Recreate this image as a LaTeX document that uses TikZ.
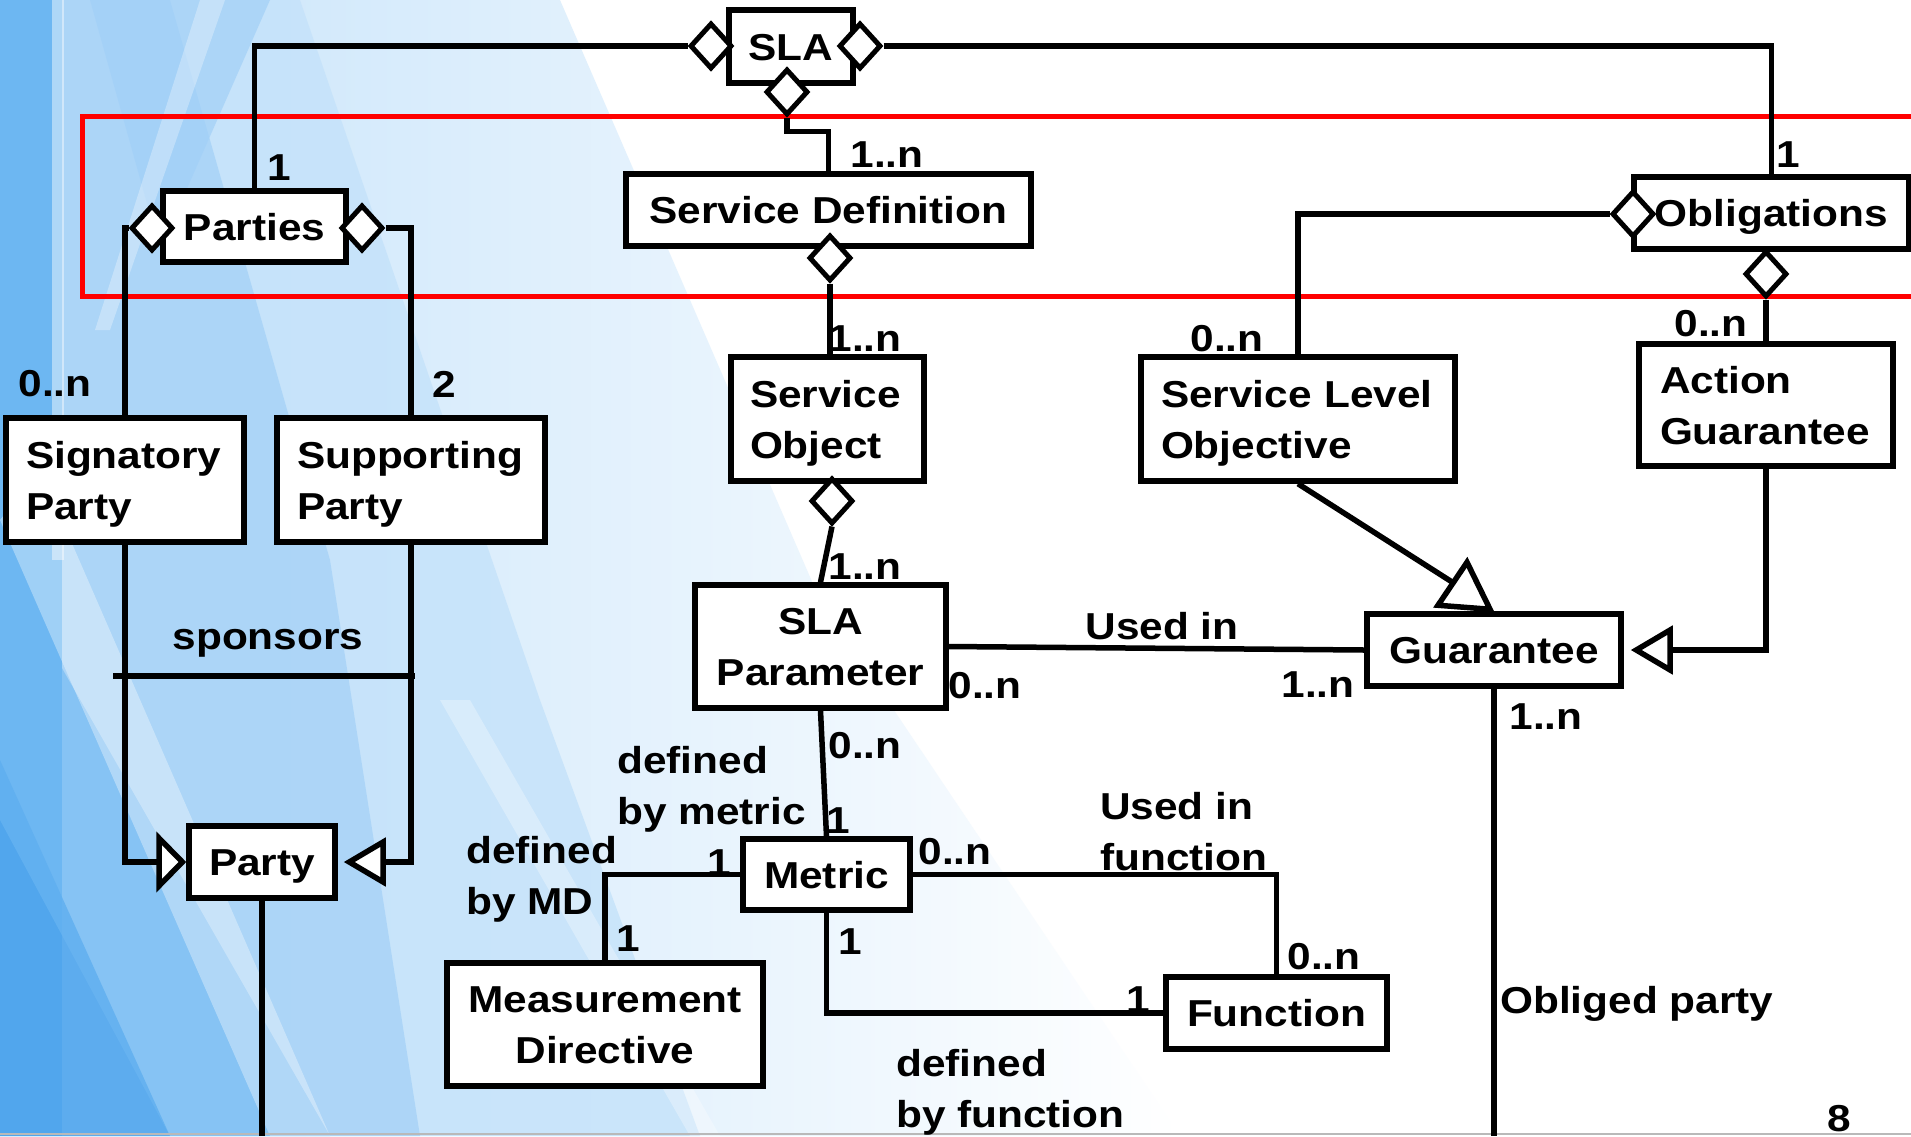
\documentclass[tikz,border=0pt]{standalone}
\usepackage{fontspec}
\setmainfont{Liberation Sans}[FakeStretch=1.13]
\usetikzlibrary{shapes.geometric,arrows.meta,calc}
\definecolor{bgL}{HTML}{E2F1FD}
\definecolor{bgM}{HTML}{C4E2FA}
\definecolor{bgS}{HTML}{A2D0F7}
\definecolor{bgD}{HTML}{6DB7F2}
\definecolor{bgX}{HTML}{4AA2EC}
\definecolor{redline}{HTML}{FF0000}
\newcommand{\dfont}{\fontsize{37.5pt}{51pt}\selectfont\bfseries}
\tikzset{
  cls/.style={draw, line width=5.5pt, fill=white, inner sep=0pt, font=\dfont,
              text height=27pt, text depth=0pt},
  two/.style={text depth=51pt},
  dia/.style={diamond, draw, line width=5pt, fill=white, inner sep=0pt,
              minimum width=42pt, minimum height=46pt},
  conn/.style={line width=5.5pt},
  lbl/.style={font=\dfont, inner sep=0pt, anchor=base},
  lblw/.style={font=\dfont, inner sep=0pt, anchor=base west, align=left}
}
\begin{document}
\begin{tikzpicture}[x=1pt, y=-1pt, line join=miter]
\useasboundingbox (0,0) rectangle (1911,1136);
\clip (0,0) rectangle (1911,1136);
% ---------- background ----------
\fill[white] (0,0) rectangle (1911,1136);
\shade[left color=bgM, right color=white] (0,0) -- (560,0) -- (820,600) -- (1180,1136) -- (0,1136) -- cycle;
\fill[bgM, opacity=0.8] (0,0) -- (300,0) -- (540,700) -- (700,1136) -- (0,1136) -- cycle;
\fill[bgS, opacity=0.7] (0,0) -- (170,0) -- (330,560) -- (420,1136) -- (0,1136) -- cycle;
\fill[bgS, opacity=0.7] (90,0) -- (270,0) -- (160,250) -- cycle;
\fill[bgD] (0,0) -- (62,0) -- (62,1136) -- (0,1136) -- cycle;
\fill[bgX, opacity=0.8] (0,760) -- (170,1136) -- (0,1136) -- cycle;
\fill[bgD, opacity=0.6] (0,560) -- (330,1136) -- (170,1136) -- (0,820) -- cycle;
\fill[white, opacity=0.45] (52,0) -- (64,0) -- (64,560) -- (52,560) -- cycle;
\fill[white, opacity=0.35] (0,520) -- (40,470) -- (330,1136) -- (270,1136) -- cycle;
\fill[white, opacity=0.3] (440,700) -- (470,700) -- (720,1136) -- (690,1136) -- cycle;
\fill[white, opacity=0.3] (200,0) -- (225,0) -- (110,330) -- (95,330) -- cycle;
\draw[gray!55, line width=2pt] (0,1134) -- (1911,1134);

% red frame
\draw[redline, line width=5pt] (82,116) rectangle (1940,296);

% ---------- classes ----------
\node[cls, minimum width=124pt, minimum height=73pt] (sla) at (791,46.5) {SLA};
\node[cls, minimum width=183pt, minimum height=71pt] (parties) at (254.5,226.5) {Parties};
\node[cls, minimum width=405pt, minimum height=72pt] (sd) at (828.5,210) {Service Definition};
\node[cls, minimum width=275pt, minimum height=72pt] (obl) at (1771.5,213) {Obligations};
\node[cls, two, minimum width=238pt, minimum height=124pt, text width=198pt, align=left] (sig) at (125,480) {Signatory\\Party};
\node[cls, two, minimum width=268pt, minimum height=124pt, text width=228pt, align=left] (sup) at (411,480) {Supporting\\Party};
\node[cls, two, minimum width=193pt, minimum height=124pt, text width=155pt, align=left] (so) at (827.5,419) {Service\\Object};
\node[cls, two, minimum width=314pt, minimum height=124pt, text width=274pt, align=left] (slo) at (1298,419) {Service Level\\Objective};
\node[cls, two, minimum width=254pt, minimum height=122pt, text width=212pt, align=left] (ag) at (1766,405) {Action\\Guarantee};
\node[cls, two, minimum width=251pt, minimum height=123pt, text width=230pt, align=center] (slap) at (820.5,646.5) {SLA\\Parameter};
\node[cls, minimum width=254pt, minimum height=72pt] (g) at (1494,650) {Guarantee};
\node[cls, minimum width=146pt, minimum height=72pt] (party) at (262,862) {Party};
\node[cls, minimum width=167pt, minimum height=71pt] (metric) at (826.5,874.5) {Metric};
\node[cls, two, minimum width=316pt, minimum height=123pt, text width=296pt, align=center] (md) at (605,1024.5) {Measurement\\Directive};
\node[cls, minimum width=221pt, minimum height=72pt] (fn) at (1276.5,1013) {Function};

% diamonds (aggregation ends)
\node[dia] (dSLAl) at (711,46) {};
\node[dia] (dSLAr) at (860,46) {};
\node[dia] (dSLAb) at (787,92) {};
\node[dia] (dParL) at (152,228) {};
\node[dia] (dParR) at (362,228) {};
\node[dia] (dSD) at (830,258) {};
\node[dia] (dObL) at (1633,214) {};
\node[dia] (dObB) at (1766,274) {};
\node[dia] (dSO) at (832,501) {};

\coordinate (bot) at (0,1136);
\coordinate (spL) at (113,676);
\coordinate (spR) at (415,676);

% ---------- connectors ----------
\begin{scope}[conn]
\draw (dSLAl.west) -| (parties.north);
\draw (dSLAr.east) -| (obl.north);
\draw (dSLAb.south) -- ++(0,14) -| (sd.north);
\draw (dSD.south) -- (dSD.south |- so.north);
\draw (dSO.south) -- (slap.north);
\draw (slap.south) -- (metric.north);
\draw (dParL.west) -| (sig.north);
\draw (dParR.east) -| (sup.north);
\draw (dObL.west) -| (slo.north);
\draw (dObB.south) -- (ag.north);
\draw[{Triangle[length=30pt,width=60pt,fill=white]}-] (party.west) -| (sig.south);
\draw[{Triangle[length=42pt,width=48pt,fill=white]}-] ([xshift=6pt]party.east) -| (sup.south);
\draw (slo.south) -- ($(g.north)+(-29,-21)$);
\draw[{Triangle[length=42pt,width=48pt,fill=white]}-] ([xshift=7pt]g.east) -| (ag.south);
\draw (slap.east) -- (g.west);
\draw (g.south) -- (g.south |- bot);
\draw (party.south) -- (party.south |- bot);
\draw (metric.west) -| (md.north);
\draw (metric.east) -| (fn.north);
\draw (metric.south) |- (fn.west);
\draw (spL) -- (spR);
\end{scope}

% generalisation triangle on Guarantee
\draw[conn, fill=white] ($(g.north)+(-56,-6)$) -- ($(g.north)+(-27,-49)$) -- ($(g.north)+(-4,-2)$) -- cycle;

% ---------- labels ----------
\node[lbl] (m1) at (279,180) {1};
\node[lbl] (m2) at (887,167) {1..n};
\node[lbl] (m3) at (1788,167) {1};
\node[lbl] (m4) at (55,396) {0..n};
\node[lbl] (m5) at (444,397) {2};
\node[lbl] (m6) at (865,351) {1..n};
\node[lbl] (m7) at (1227,351) {0..n};
\node[lbl] (m8) at (1711,336) {0..n};
\node[lbl] (m9) at (865,579) {1..n};
\node[lbl] (sponsors) at (268,649) {sponsors};
\node[lbl] (usedin) at (1162,639) {Used in};
\node[lbl] (m10) at (985,698) {0..n};
\node[lbl] (m11) at (1318,697) {1..n};
\node[lbl] (m12) at (1546,729) {1..n};
\node[lbl] (m13) at (865,758) {0..n};
\node[lbl] (m14) at (838,833) {1};
\node[lbl] (m15) at (719,875) {1};
\node[lbl] (m16) at (955,864) {0..n};
\node[lbl] (m17) at (628,951) {1};
\node[lbl] (m18) at (850,954) {1};
\node[lbl] (m19) at (1324,969) {0..n};
\node[lbl] (m20) at (1138,1012) {1};
\node[lbl] (pagenum) at (1839,1131) {8};
\node[lblw] (dbm) at (617,824) {defined\\by metric};
\node[lblw] (dbmd) at (466,914) {defined\\by MD};
\node[lblw] (uif) at (1100,870) {Used in\\function};
\node[lblw] (dbf) at (896,1127) {defined\\by function};
\node[lblw] (obp) at (1500,1013) {Obliged party};
\end{tikzpicture}
\end{document}
